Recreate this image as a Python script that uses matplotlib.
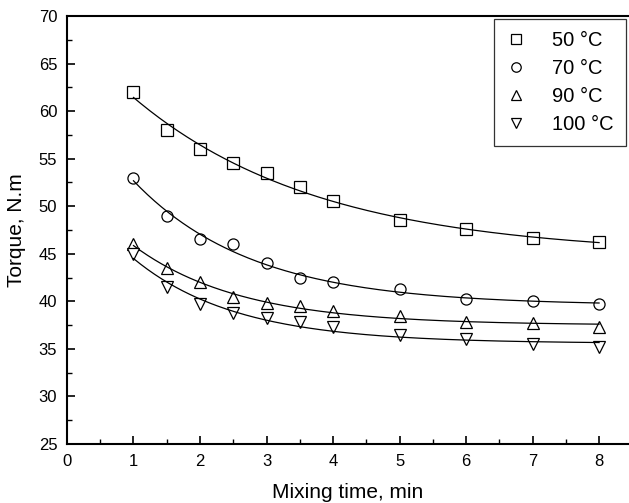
import numpy as np
import matplotlib
matplotlib.use("Agg")
import matplotlib.pyplot as plt
from matplotlib.ticker import MultipleLocator

plt.rcParams['font.family'] = ['Liberation Sans', 'DejaVu Sans']

time_min = [1, 1.5, 2, 2.5, 3, 3.5, 4, 5, 6, 7, 8]
torque_50 = [62.0, 58.0, 56.0, 54.5, 53.5, 52.0, 50.5, 48.5, 47.6, 46.7, 46.2]
torque_70 = [53.0, 49.0, 46.5, 46.0, 44.0, 42.5, 42.0, 41.3, 40.2, 40.0, 39.7]
torque_90 = [46.0, 43.5, 42.0, 40.5, 39.8, 39.5, 39.0, 38.5, 37.8, 37.7, 37.3]
torque_100 = [45.0, 41.5, 39.7, 38.8, 38.2, 37.8, 37.3, 36.5, 36.0, 35.5, 35.2]
labels = ["50 °C", "70 °C", "90 °C", "100 °C"]
markers = ["s", "o", "^", "v"]


def exp_fit(x, y):
    x = np.asarray(x, float); y = np.asarray(y, float)
    best = None
    for tau in np.linspace(0.3, 6, 400):
        A = np.column_stack([np.ones_like(x), np.exp(-x / tau)])
        coef, res, *_ = np.linalg.lstsq(A, y, rcond=None)
        err = np.sum((A @ coef - y) ** 2)
        if best is None or err < best[0]:
            best = (err, tau, coef)
    _, tau, coef = best
    xs = np.linspace(x.min(), x.max(), 200)
    return xs, coef[0] + coef[1] * np.exp(-xs / tau)


fig = plt.figure(figsize=(6.29, 5.03), dpi=100)
ax = fig.add_axes([0.1065, 0.1173, 0.8935, 0.851])

for ys, lab, mk in zip([torque_50, torque_70, torque_90, torque_100], labels, markers):
    ax.plot(time_min, ys, linestyle='none', marker=mk, markersize=8,
            markerfacecolor='white', markeredgecolor='black', markeredgewidth=0.9,
            label=lab)
    xs, yf = exp_fit(time_min, ys)
    ax.plot(xs, yf, color='black', linewidth=0.9)

ax.set_xlim(0, 8.45)
ax.set_ylim(25, 70)
ax.xaxis.set_major_locator(MultipleLocator(1))
ax.xaxis.set_minor_locator(MultipleLocator(0.5))
ax.yaxis.set_major_locator(MultipleLocator(5))
ax.yaxis.set_minor_locator(MultipleLocator(2.5))
ax.tick_params(which='both', direction='in', top=False, right=False, labelsize=12, pad=7)
ax.tick_params(which='major', length=6, width=1.2)
ax.tick_params(which='minor', length=3.5, width=1.0)
for s in ['left', 'bottom', 'top']:
    ax.spines[s].set_linewidth(1.5)
ax.spines['right'].set_visible(False)

ax.set_xlabel("Mixing time, min", fontsize=15, labelpad=10)
ax.set_ylabel("Torque, N.m", fontsize=15, labelpad=9)

leg = ax.legend(loc='upper right', bbox_to_anchor=(1.0, 1.0), fontsize=14.5,
                frameon=True, fancybox=False, edgecolor='black', handlelength=1.0,
                handletextpad=1.3, borderpad=0.6, labelspacing=0.45, markerscale=0.85,
                borderaxespad=0.15)
leg.get_frame().set_linewidth(0.9)

fig.savefig("out.png", dpi=100)
